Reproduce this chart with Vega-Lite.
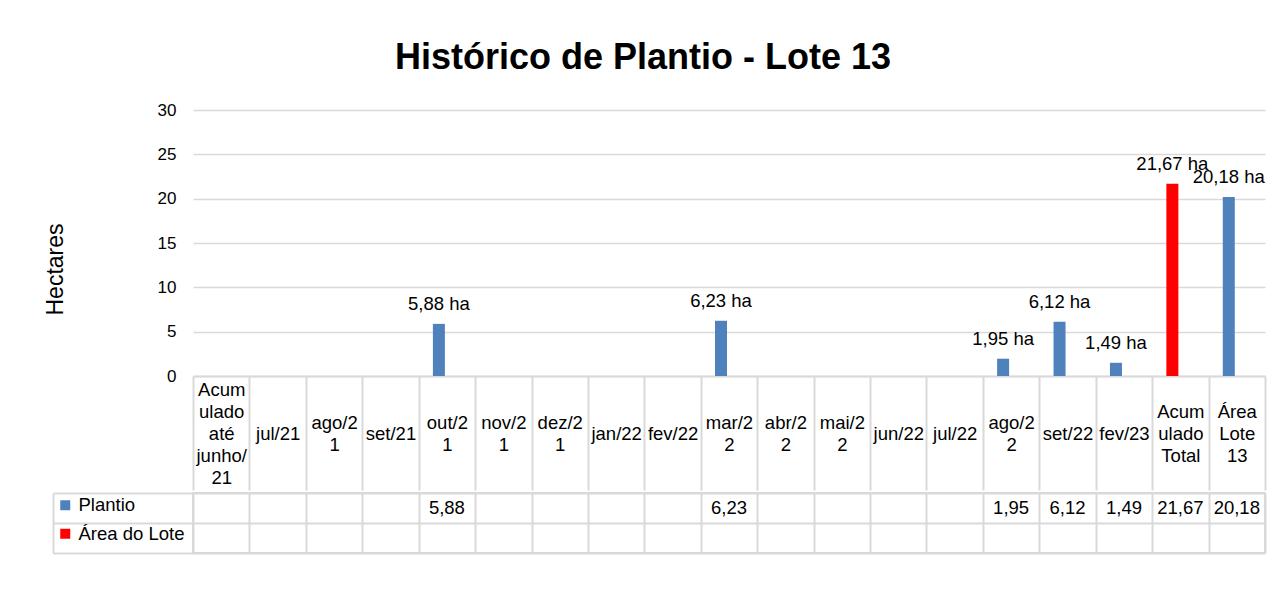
{
  "$schema": "https://vega.github.io/schema/vega-lite/v6.json",
  "background": "white",
  "padding": {"left": 44, "top": 40, "right": 10, "bottom": 5},
  "title": {"text": "Histórico de Plantio - Lote 13", "fontSize": 36, "font": "Liberation Sans", "fontWeight": "bold", "color": "#000000", "anchor": "middle", "offset": 24, "dx": -12},
  "config": {"font": "Liberation Sans", "view": {"stroke": null}},
  "datasets": {
    "dados": [
      {"categoria": "Acumulado até junho/21", "rotulo": "Acum\nulado\naté\njunho/\n21", "serie": "Plantio", "plantio": null},
      {"categoria": "jul/21", "rotulo": "jul/21", "serie": "Plantio", "plantio": null},
      {"categoria": "ago/21", "rotulo": "ago/2\n1", "serie": "Plantio", "plantio": null},
      {"categoria": "set/21", "rotulo": "set/21", "serie": "Plantio", "plantio": null},
      {"categoria": "out/21", "rotulo": "out/2\n1", "serie": "Plantio", "plantio": 5.88},
      {"categoria": "nov/21", "rotulo": "nov/2\n1", "serie": "Plantio", "plantio": null},
      {"categoria": "dez/21", "rotulo": "dez/2\n1", "serie": "Plantio", "plantio": null},
      {"categoria": "jan/22", "rotulo": "jan/22", "serie": "Plantio", "plantio": null},
      {"categoria": "fev/22", "rotulo": "fev/22", "serie": "Plantio", "plantio": null},
      {"categoria": "mar/22", "rotulo": "mar/2\n2", "serie": "Plantio", "plantio": 6.23},
      {"categoria": "abr/22", "rotulo": "abr/2\n2", "serie": "Plantio", "plantio": null},
      {"categoria": "mai/22", "rotulo": "mai/2\n2", "serie": "Plantio", "plantio": null},
      {"categoria": "jun/22", "rotulo": "jun/22", "serie": "Plantio", "plantio": null},
      {"categoria": "jul/22", "rotulo": "jul/22", "serie": "Plantio", "plantio": null},
      {"categoria": "ago/22", "rotulo": "ago/2\n2", "serie": "Plantio", "plantio": 1.95},
      {"categoria": "set/22", "rotulo": "set/22", "serie": "Plantio", "plantio": 6.12},
      {"categoria": "fev/23", "rotulo": "fev/23", "serie": "Plantio", "plantio": 1.49},
      {"categoria": "Acumulado Total", "rotulo": "Acum\nulado\nTotal", "serie": "Plantio", "plantio": 21.67},
      {"categoria": "Área Lote 13", "rotulo": "Área\nLote\n13", "serie": "Plantio", "plantio": 20.18}
    ]
  },
  "spacing": 0,
  "vconcat": [
    {
      "width": 1072,
      "height": 266,
      "data": {"name": "dados"},
      "transform": [
        {"calculate": "datum.plantio == null ? '' : replace(format(datum.plantio, '.2f'), '.', ',') + ' ha'", "as": "rotulo_barra"}
      ],
      "encoding": {
        "x": {
          "field": "rotulo", "type": "nominal", "sort": null,
          "scale": {
            "domain": ["Acum\nulado\naté\njunho/\n21", "jul/21", "ago/2\n1", "set/21", "out/2\n1", "nov/2\n1", "dez/2\n1", "jan/22", "fev/22", "mar/2\n2", "abr/2\n2", "mai/2\n2", "jun/22", "jul/22", "ago/2\n2", "set/22", "fev/23", "Acum\nulado\nTotal", "Área\nLote\n13"],
            "paddingInner": 0, "paddingOuter": 0
          },
          "axis": {
            "title": null, "labelAngle": 0, "labelExpr": "datum.value == null ? '' : split(datum.value, '\\n')",
            "tickBand": "extent", "tickSize": 114, "tickColor": "#d9d9d9", "tickWidth": 2,
            "domainColor": "#d9d9d9", "domainWidth": 2,
            "labelPadding": {
              "condition": [
                {"test": "length(split(datum.value, '\\n')) == 5", "value": -101},
                {"test": "length(split(datum.value, '\\n')) == 3", "value": -79},
                {"test": "length(split(datum.value, '\\n')) == 2", "value": -68}
              ],
              "value": -57
            },
            "labelBaseline": "middle", "labelFontSize": 18.5, "labelLineHeight": 22,
            "labelColor": "#000000", "labelAlign": "center", "grid": false, "labelOverlap": false, "labelLimit": 0
          }
        },
        "xOffset": {
          "field": "serie", "type": "nominal",
          "scale": {"domain": ["Plantio", "Área do Lote"], "paddingInner": 0.25, "paddingOuter": 0.888}
        },
        "y": {
          "field": "plantio", "type": "quantitative",
          "scale": {"domain": [0, 30]},
          "axis": {
            "title": "Hectares", "titleFontSize": 23, "titleFontWeight": "normal", "titleColor": "#000000", "titlePadding": 90, "titleY": 159,
            "values": [0, 5, 10, 15, 20, 25, 30], "labelFontSize": 17, "labelColor": "#000000", "labelPadding": 17,
            "ticks": false, "domain": false, "grid": true, "gridColor": "#d9d9d9", "gridWidth": 1.5
          }
        }
      },
      "layer": [
        {
          "mark": {"type": "bar"},
          "encoding": {
            "color": {
              "field": "serie", "type": "nominal",
              "scale": {"domain": ["Plantio", "Área do Lote"], "range": ["#4F81BD", "#FF0000"]},
              "condition": {"test": "datum.categoria === 'Acumulado Total'", "value": "#FF0000"},
              "legend": {
                "orient": "none", "legendX": -137, "legendY": 386, "title": null, "direction": "vertical",
                "symbolType": "square", "symbolSize": 100, "symbolStrokeWidth": 0, "symbolOpacity": 1,
                "labelFontSize": 18.5, "labelColor": "#000000", "labelOffset": 4, "rowPadding": 9.5, "padding": 0
              }
            }
          }
        },
        {
          "mark": {"type": "text", "baseline": "bottom", "dy": -10, "fontSize": 18.5, "color": "#000000"},
          "encoding": {"text": {"field": "rotulo_barra"}}
        }
      ]
    },
    {
      "width": 1072,
      "height": 60,
      "view": {"stroke": "#d9d9d9", "strokeWidth": 2},
      "data": {"name": "dados"},
      "transform": [
        {"calculate": "datum.plantio == null ? '' : replace(format(datum.plantio, '.2f'), '.', ',')", "as": "valor_txt"}
      ],
      "mark": {"type": "text", "fontSize": 18.5, "color": "#000000", "baseline": "middle"},
      "encoding": {
        "x": {
          "field": "rotulo", "type": "nominal", "sort": null,
          "scale": {
            "domain": ["Acum\nulado\naté\njunho/\n21", "jul/21", "ago/2\n1", "set/21", "out/2\n1", "nov/2\n1", "dez/2\n1", "jan/22", "fev/22", "mar/2\n2", "abr/2\n2", "mai/2\n2", "jun/22", "jul/22", "ago/2\n2", "set/22", "fev/23", "Acum\nulado\nTotal", "Área\nLote\n13"],
            "paddingInner": 0, "paddingOuter": 0
          },
          "axis": {"title": null, "labels": false, "ticks": false, "domain": false, "grid": true, "gridColor": "#d9d9d9", "gridWidth": 2, "tickBand": "extent"}
        },
        "y": {
          "field": "serie", "type": "nominal",
          "scale": {"domain": ["Plantio", "Área do Lote"], "paddingInner": 0, "paddingOuter": 0},
          "axis": {
            "title": null, "labels": false, "offset": 140,
            "domain": true, "domainColor": "#d9d9d9", "domainWidth": 2,
            "ticks": true, "tickSize": -140, "tickColor": "#d9d9d9", "tickWidth": 2,
            "grid": true, "gridColor": "#d9d9d9", "gridWidth": 2, "tickBand": "extent"
          }
        },
        "text": {"field": "valor_txt"}
      }
    }
  ]
}
